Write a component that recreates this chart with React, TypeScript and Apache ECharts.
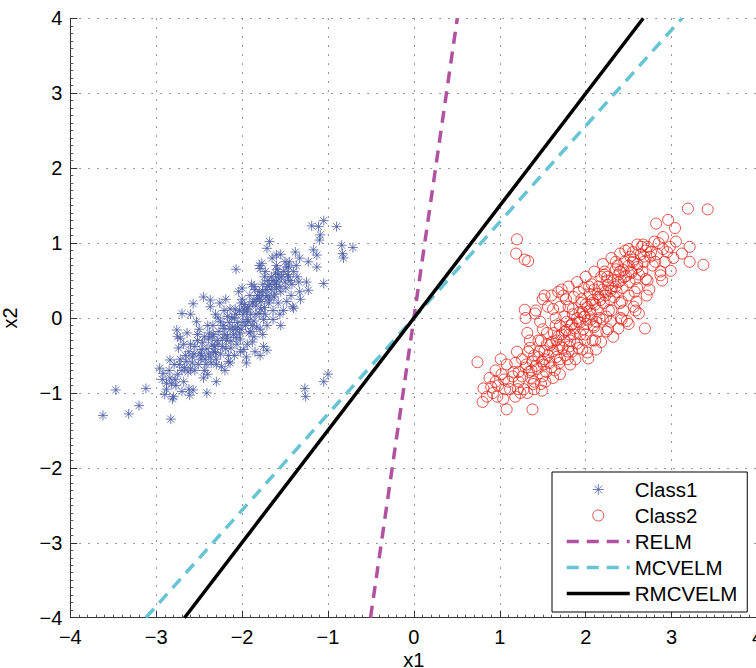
import React, { useEffect, useRef } from "react";
import * as echarts from "echarts";

const class1: number[][] = [
  [-3.62, -1.3], [-3.32, -1.28], [-3.2, -1.17], [-3.47, -0.96], [-3.12, -0.94], [-2.83, -1.35],
  [-2.96, -0.67], [-2.41, -1.0], [-2.3, -0.85], [-2.14, -0.6], [-1.27, -0.94], [-1.26, -1.05],
  [-1.05, -0.85], [-1.0, -0.75], [-1.05, 1.3], [-1.19, 1.23], [-1.11, 1.22], [-0.9, 1.22],
  [-1.09, 1.11], [-1.1, 1.04], [-0.84, 0.97], [-0.71, 0.94], [-0.83, 0.86], [-0.82, 0.8],
  [-1.68, 1.02], [-1.71, 0.93], [-1.6, 0.84], [-2.07, 0.65], [-1.77, 0.73], [-1.79, 0.66],
  [-1.38, 0.88], [-1.33, 0.8], [-1.23, 0.75], [-1.13, 0.68], [-1.17, 0.91], [-1.13, 0.84],
  [-1.05, 0.46], [-1.23, 0.37], [-1.25, 0.48], [-1.4, 0.13], [-2.7, 0.06], [-2.57, 0.19],
  [-2.37, 0.24], [-2.76, -0.16], [-2.72, -0.27], [-2.84, -0.56], [-2.92, -0.74], [-2.88, -0.87],
  [-2.8, -1.05], [-2.61, -1.03], [-2.57, -0.96], [-1.75, -0.38], [-1.71, -0.43], [-1.79, -0.5],
  [-1.95, -0.52],
  [-2.93, -0.82], [-2.88, -0.95], [-2.85, -0.7], [-2.9, -1.02], [-2.82, -0.88],
  [-2.79, -0.62], [-2.77, -0.9], [-2.75, -0.75], [-2.81, -1.08], [-2.72, -0.55], [-2.7, -0.98], [-2.74, -0.4],
  [-2.66, -0.5], [-2.63, -0.72], [-2.68, -0.85], [-2.6, -0.35], [-2.62, -0.95], [-2.58, -0.6], [-2.64, -0.2], [-2.67, -0.66],
  [-2.52, -0.3], [-2.48, -0.55], [-2.55, -0.7], [-2.5, -0.15], [-2.45, -0.8], [-2.47, -0.42], [-2.53, -0.05], [-2.42, -0.62], [-2.56, -0.48], [-2.44, -0.25],
  [-2.38, -0.2], [-2.33, -0.45], [-2.36, -0.6], [-2.31, 0.05], [-2.4, -0.75], [-2.29, -0.3], [-2.34, -0.1], [-2.37, 0.15], [-2.3, -0.55], [-2.32, -0.38], [-2.39, -0.48],
  [-2.22, -0.1], [-2.18, -0.3], [-2.21, 0.1], [-2.16, -0.5], [-2.24, -0.65], [-2.19, 0.25], [-2.14, -0.15], [-2.23, -0.38], [-2.17, 0.02], [-2.2, -0.22], [-2.26, 0.2], [-2.13, -0.4],
  [-2.07, 0.05], [-2.03, -0.2], [-2.06, -0.35], [-2.01, 0.2], [-2.09, -0.5], [-2.04, 0.35], [-1.99, -0.05], [-2.08, 0.12], [-2.02, -0.28], [-2.05, -0.12], [-2.0, 0.4], [-2.1, -0.22], [-1.98, -0.42],
  [-1.92, 0.15], [-1.88, -0.1], [-1.91, 0.3], [-1.86, -0.25], [-1.94, -0.35], [-1.89, 0.45], [-1.84, 0.05], [-1.93, -0.05], [-1.87, 0.22], [-1.9, -0.18], [-1.85, 0.38], [-1.95, 0.08], [-1.83, -0.12],
  [-1.77, 0.3], [-1.73, 0.05], [-1.76, 0.45], [-1.71, -0.1], [-1.79, -0.15], [-1.74, 0.55], [-1.69, 0.2], [-1.78, 0.12], [-1.72, 0.38], [-1.75, -0.02], [-1.7, 0.5], [-1.8, 0.25],
  [-1.62, 0.45], [-1.58, 0.2], [-1.61, 0.6], [-1.56, 0.05], [-1.64, 0.1], [-1.59, 0.65], [-1.55, 0.35], [-1.63, 0.28], [-1.57, 0.52], [-1.6, 0.4], [-1.66, 0.55],
  [-1.47, 0.58], [-1.43, 0.3], [-1.46, 0.68], [-1.41, 0.15], [-1.49, 0.4], [-1.44, 0.5], [-1.4, 0.62], [-1.48, 0.22], [-1.42, 0.45],
  [-1.36, 0.55], [-1.33, 0.35], [-1.37, 0.7], [-1.32, 0.25], [-1.34, 0.48],
  [-2.45, 0.28], [-2.6, 0.05], [-2.75, -0.25], [-2.2, -0.7], [-1.95, -0.6], [-1.85, -0.45], [-1.55, -0.1], [-1.5, 0.75], [-1.65, 0.8], [-1.8, 0.7],
  [-2.58, -0.52], [-2.55, -0.38], [-2.51, -0.62], [-2.49, -0.47], [-2.46, -0.33], [-2.43, -0.55], [-2.41, -0.41], [-2.39, -0.28],
  [-2.37, -0.52], [-2.35, -0.36], [-2.33, -0.22], [-2.31, -0.46], [-2.28, -0.35], [-2.27, -0.18], [-2.25, -0.48], [-2.23, -0.27],
  [-2.21, -0.14], [-2.19, -0.41], [-2.17, -0.24], [-2.15, -0.06], [-2.13, -0.31], [-2.11, -0.12], [-2.09, 0.0], [-2.07, -0.26],
  [-2.05, -0.06], [-2.03, 0.1], [-2.01, -0.15], [-1.99, 0.05], [-1.97, 0.18], [-1.96, -0.1], [-1.94, 0.12], [-1.92, -0.2],
  [-1.9, 0.05], [-1.88, 0.2], [-1.86, -0.04], [-1.84, 0.16], [-1.82, 0.3], [-1.8, 0.06], [-1.78, 0.22], [-1.76, 0.36],
  [-1.74, 0.14], [-1.72, 0.28], [-1.7, 0.42], [-1.68, 0.24], [-1.66, 0.38], [-1.64, 0.5], [-1.62, 0.32], [-1.6, 0.48],
  [-1.58, 0.58], [-1.56, 0.42], [-1.54, 0.55], [-1.52, 0.62], [-1.5, 0.48], [-1.48, 0.68], [-1.46, 0.55],
  [-2.62, -0.45], [-2.65, -0.58], [-2.7, -0.7], [-2.73, -0.62], [-2.78, -0.82], [-2.84, -0.8], [-2.68, -0.35], [-2.52, -0.22],
  [-2.4, -0.1], [-2.28, 0.0], [-2.14, 0.12], [-2.0, 0.25], [-1.86, 0.42], [-1.73, 0.62], [-2.44, -0.7], [-2.3, -0.62],
  [-2.16, -0.58], [-2.02, -0.45], [-1.88, -0.32], [-1.76, -0.22], [-1.64, -0.02], [-1.52, 0.1], [-1.6, 0.7], [-1.45, 0.75], [-1.55, 0.85],
  [-2.25, -0.05], [-2.12, 0.0], [-1.98, 0.12], [-1.83, 0.25], [-1.7, 0.3], [-2.35, -0.25], [-2.47, -0.5], [-2.6, -0.68],
  [-2.08, -0.15], [-1.94, -0.02], [-1.8, 0.35], [-1.68, 0.45],
];

const class2: number[][] = [
  [0.74, -0.59], [0.81, -0.94], [0.8, -1.12], [1.08, -1.22], [1.38, -1.22], [1.49, -0.97],
  [1.2, 1.05], [1.19, 0.86], [1.29, 0.78], [1.33, 0.76], [1.29, 0.11], [1.41, 0.06],
  [1.72, 0.38], [2.03, -0.54], [2.5, -0.08], [2.69, -0.14], [3.19, 1.46], [3.42, 1.45],
  [2.82, 1.26], [2.96, 1.31], [3.04, 1.2], [2.9, 1.08], [3.21, 0.95], [3.37, 0.71],
  [3.21, 0.75], [2.99, 0.63], [3.12, 0.86], [2.87, 0.57],
  [0.88, -0.8], [0.92, -1.0], [0.95, -0.7], [0.9, -0.92], [0.97, -1.05],
  [1.02, -0.75], [1.06, -0.95], [1.08, -0.62], [1.04, -1.08], [1.1, -0.85], [1.01, -0.55],
  [1.18, -0.6], [1.22, -0.85], [1.2, -0.45], [1.24, -1.0], [1.16, -0.72], [1.26, -0.55], [1.21, -0.95],
  [1.33, -0.45], [1.37, -0.7], [1.35, -0.3], [1.39, -0.88], [1.31, -0.62], [1.4, -0.5], [1.36, -0.8], [1.32, -0.2],
  [1.48, -0.3], [1.52, -0.55], [1.5, -0.15], [1.54, -0.72], [1.46, -0.45], [1.55, -0.35], [1.51, -0.62], [1.47, -0.05], [1.53, -0.85],
  [1.63, -0.2], [1.67, -0.42], [1.65, 0.0], [1.69, -0.6], [1.61, -0.32], [1.7, -0.1], [1.66, -0.52], [1.62, 0.12], [1.68, -0.25], [1.64, -0.7],
  [1.78, -0.05], [1.82, -0.3], [1.8, 0.15], [1.84, -0.45], [1.76, -0.18], [1.85, 0.05], [1.81, -0.38], [1.77, 0.25], [1.83, -0.1], [1.79, -0.55], [1.86, -0.22],
  [1.93, 0.08], [1.97, -0.15], [1.95, 0.25], [1.99, -0.3], [1.91, -0.05], [2.0, 0.18], [1.96, -0.42], [1.92, 0.35], [1.98, 0.02], [1.94, -0.22], [2.01, -0.08],
  [2.08, 0.2], [2.12, -0.05], [2.1, 0.38], [2.14, -0.18], [2.06, 0.05], [2.15, 0.28], [2.11, -0.3], [2.07, 0.45], [2.13, 0.12], [2.09, -0.1], [2.16, 0.0],
  [2.23, 0.35], [2.27, 0.1], [2.25, 0.5], [2.29, -0.05], [2.21, 0.2], [2.3, 0.4], [2.26, -0.15], [2.22, 0.58], [2.28, 0.25], [2.24, 0.02],
  [2.38, 0.48], [2.42, 0.22], [2.4, 0.62], [2.44, 0.1], [2.36, 0.35], [2.45, 0.55], [2.41, 0.0], [2.37, 0.7], [2.43, 0.4],
  [2.53, 0.6], [2.57, 0.35], [2.55, 0.75], [2.59, 0.22], [2.51, 0.48], [2.6, 0.68], [2.56, 0.15], [2.52, 0.82], [2.58, 0.52],
  [2.68, 0.75], [2.72, 0.5], [2.7, 0.9], [2.74, 0.38], [2.66, 0.62], [2.75, 0.82], [2.71, 0.3], [2.67, 0.98],
  [2.83, 0.85], [2.87, 0.62], [2.85, 1.0], [2.89, 0.5], [2.81, 0.75], [2.9, 0.92],
  [2.98, 0.95], [3.02, 0.8], [3.05, 1.02],
  [1.22, -0.72], [1.26, -0.78], [1.3, -0.66], [1.34, -0.72], [1.38, -0.58], [1.42, -0.64], [1.45, -0.52], [1.49, -0.58],
  [1.52, -0.44], [1.56, -0.5], [1.59, -0.36], [1.62, -0.44], [1.66, -0.3], [1.69, -0.36], [1.72, -0.22], [1.75, -0.3],
  [1.78, -0.16], [1.81, -0.22], [1.84, -0.08], [1.87, -0.14], [1.9, 0.0], [1.93, -0.06], [1.96, 0.08], [1.99, 0.02],
  [2.02, 0.15], [2.05, 0.1], [2.08, 0.24], [2.11, 0.18], [2.14, 0.32], [2.17, 0.24], [2.2, 0.38], [2.23, 0.3],
  [2.26, 0.44], [2.29, 0.36], [2.32, 0.5], [2.35, 0.42], [2.38, 0.58], [2.41, 0.5], [2.44, 0.64], [2.47, 0.56],
  [2.5, 0.7], [2.53, 0.62], [2.56, 0.78], [2.6, 0.72], [2.64, 0.85], [2.68, 0.82], [2.72, 0.95], [2.76, 0.88], [2.8, 1.02], [2.78, 0.7],
  [1.4, -0.85], [1.5, -0.78], [1.6, -0.66], [1.7, -0.55], [1.8, -0.45], [1.9, -0.34], [2.0, -0.22], [2.1, -0.12],
  [2.2, -0.02], [2.3, 0.1], [2.4, 0.2], [2.5, 0.3], [2.6, 0.4], [2.7, 0.52], [1.35, -0.4], [1.45, -0.3],
  [1.55, -0.2], [1.65, -0.1], [1.75, 0.02], [1.85, 0.12], [1.95, 0.2], [2.05, 0.32], [2.15, 0.42], [2.25, 0.55],
  [2.35, 0.65], [2.45, 0.75], [2.55, 0.88], [2.65, 0.95], [1.12, -0.95], [1.15, -0.78], [1.05, -0.82], [0.98, -0.9],
  [1.28, -0.95], [1.18, -1.05], [0.85, -1.05], [0.95, -0.85], [2.92, 0.75], [2.95, 0.88], [2.62, 0.58], [2.33, 0.28],
  [2.06, -0.02], [1.73, -0.4], [1.44, -0.68],
  [1.5, 0.25], [1.52, 0.3], [1.48, -0.88], [1.6, 0.3], [1.68, 0.35], [1.62, -0.8], [1.7, -0.75], [1.8, 0.42],
  [1.82, -0.62], [1.9, 0.48], [1.88, -0.55], [2.0, 0.55], [2.02, -0.46], [2.1, 0.62], [2.12, -0.42], [2.2, 0.72],
  [2.18, -0.32], [2.3, 0.8], [2.32, -0.25], [2.4, 0.86], [2.38, -0.14], [2.5, 0.92], [2.48, -0.04], [2.6, 0.98],
  [2.62, 0.06], [1.3, 0.0], [1.32, -1.0], [1.42, 0.1], [1.4, -0.95], [1.56, 0.15], [1.74, 0.3], [1.98, 0.4],
  [2.18, 0.55], [2.35, 0.75], [1.58, -0.6], [1.76, -0.5], [1.92, -0.4], [2.08, -0.3], [2.24, -0.18], [2.42, -0.02],
  [2.58, 0.1], [1.7, 0.15], [1.86, 0.28], [2.04, 0.42], [2.22, 0.62], [2.46, 0.9],
];

const relm: number[][] = [[-0.505, -4], [0.505, 4]];
const mcvelm: number[][] = [[-3.12, -4], [3.12, 4]];
const rmcvelm: number[][] = [[-2.67, -4], [2.67, 4]];

const seriesNames = ["Class1", "Class2", "RELM", "MCVELM", "RMCVELM"];

const BLUE = "#4a5ba6";
const RED = "#e2261a";
const PURPLE = "#b0529f";
const CYAN = "#66c4d4";
const FONT = "'Liberation Sans', Arial, Helvetica, sans-serif";

const asterisk = "path://M0,-1L0,1M-1,0L1,0M-0.707,-0.707L0.707,0.707M-0.707,0.707L0.707,-0.707";

const minusFmt = (v: number) => String(v).replace("-", "\u2212");

export default function App() {
  const ref = useRef<HTMLDivElement>(null);
  useEffect(() => {
    if (!ref.current) return;
    const chart = echarts.init(ref.current, null, { renderer: "svg" });
    const axisCommon = {
      type: "value" as const,
      min: -4,
      max: 4,
      interval: 1,
      axisLine: { show: true, onZero: false, lineStyle: { color: "#333", width: 1 } },
      axisTick: { show: true, inside: true, length: 7, lineStyle: { color: "#333" } },
      minorTick: { show: true, splitNumber: 10, length: 3, lineStyle: { color: "#555" } },
      splitLine: { show: true, lineStyle: { color: "#777", width: 1, type: [1.5, 7.5] } },
      axisLabel: { fontSize: 20, color: "#000", fontFamily: FONT, formatter: minusFmt },
      nameLocation: "middle" as const,
      nameMoveOverlap: false,
    };
    const legendData = seriesNames.map((n, i) =>
      i < 2 ? { name: n } : { name: n, itemStyle: { opacity: 0 } }
    );
    chart.setOption({
      animation: false,
      backgroundColor: "#fff",
      grid: { left: 70.3, right: -1.5, top: 18.3, bottom: 50.3, containLabel: false, outerBoundsMode: "none" },
      xAxis: {
        ...axisCommon,
        name: "x1",
        nameGap: 34,
        nameTextStyle: { fontSize: 20, lineHeight: 16, color: "#000", fontFamily: FONT },
        axisLabel: { ...axisCommon.axisLabel, margin: 9 },
      },
      yAxis: {
        ...axisCommon,
        name: "x2",
        nameGap: 50,
        nameTextStyle: { fontSize: 20, lineHeight: 20, color: "#000", fontFamily: FONT },
        axisLabel: { ...axisCommon.axisLabel, margin: 8 },
      },
      legend: {
        data: legendData,
        orient: "vertical",
        left: 552,
        top: 472,
        padding: [7, 10, 8, 13],
        itemWidth: 63,
        itemHeight: 11,
        itemGap: 5,
        backgroundColor: "#fff",
        borderColor: "#000",
        borderWidth: 1,
        borderRadius: 0,
        textStyle: { fontSize: 20.5, lineHeight: 20, color: "#000", fontFamily: FONT },
        itemStyle: { borderWidth: 1 },
        lineStyle: { width: 3.5 },
        selectedMode: false,
      },
      series: [
        {
          name: "Class1",
          type: "scatter",
          data: class1,
          symbol: asterisk,
          symbolSize: 10,
          itemStyle: { color: "rgba(0,0,0,0)", borderColor: BLUE, borderWidth: 1 },
        },
        {
          name: "Class2",
          type: "scatter",
          data: class2,
          symbol: "circle",
          symbolSize: 11,
          itemStyle: { color: "rgba(0,0,0,0)", borderColor: RED, borderWidth: 1 },
        },
        {
          name: "RELM",
          type: "line",
          data: relm,
          symbol: "none",
          lineStyle: { color: PURPLE, width: 3.5, type: [12, 8] },
          itemStyle: { color: PURPLE },
        },
        {
          name: "MCVELM",
          type: "line",
          data: mcvelm,
          symbol: "none",
          lineStyle: { color: CYAN, width: 3.5, type: [12, 8] },
          itemStyle: { color: CYAN },
        },
        {
          name: "RMCVELM",
          type: "line",
          data: rmcvelm,
          symbol: "none",
          lineStyle: { color: "#000", width: 3.5 },
          itemStyle: { color: "#000" },
        },
      ],
    });
    return () => chart.dispose();
  }, []);
  return (
    <div
      ref={ref}
      style={{ position: "absolute", left: 0, top: 0, width: 756, height: 668 }}
    />
  );
}
